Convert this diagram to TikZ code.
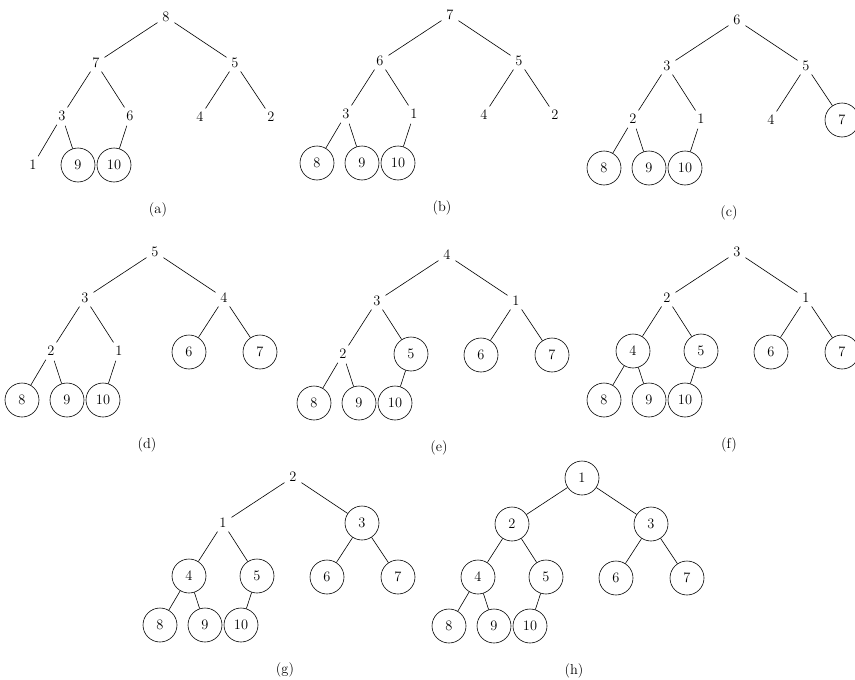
\documentclass[tikz,border=0pt]{standalone}
\usetikzlibrary{positioning}
\begin{document}
\begin{tikzpicture}[
  x=1pt, y=-1pt,
  nodo/.style={circle, inner sep=0pt, minimum size=20pt, font=\Large},
  marcado/.style={nodo, draw, line width=0.6pt, minimum size=34pt},
  rama/.style={line width=0.6pt},
  rotulo/.style={font=\Large}
]
\useasboundingbox (0,0) rectangle (855,680);
\foreach \p/\rx/\ry/\tam/\vals in {
  a/166/17/8/{8,7,5,3,6,4,2,1,9,10},
  b/450/15/7/{7,6,5,3,1,4,2,8,9,10},
  c/737/20/6/{6,3,5,2,1,4,7,8,9,10},
  d/155/252/5/{5,3,4,2,1,6,7,8,9,10},
  e/447/255/4/{4,3,1,2,5,6,7,8,9,10},
  f/737/252/3/{3,2,1,4,5,6,7,8,9,10},
  g/293/477/2/{2,1,3,4,5,6,7,8,9,10},
  h/582/478/0/{1,2,3,4,5,6,7,8,9,10}}
{
  % nodos del arbol, los ya ordenados van en circulo
  \foreach \v [count=\i] in \vals {
    \pgfmathsetmacro\dx{{0,-70,69,-104,-36,34,105,-133,-88,-52}[\i-1]}
    \pgfmathsetmacro\dy{{0,46,46,99,99,100,100,148,148,148}[\i-1]}
    \ifnum\i>\tam\def\estilo{marcado}\else\def\estilo{nodo}\fi
    \node[\estilo] (\p\i) at (\rx+\dx, \ry+\dy) {\v};
  }
  \foreach \i in {2,...,10} {
    \pgfmathtruncatemacro\j{\i/2}
    \draw[rama] (\p\j) -- (\p\i);
  }
  \node[rotulo] (\p-rot) at (\rx-8, \ry+193) {(\p)};
}
\end{tikzpicture}
\end{document}
